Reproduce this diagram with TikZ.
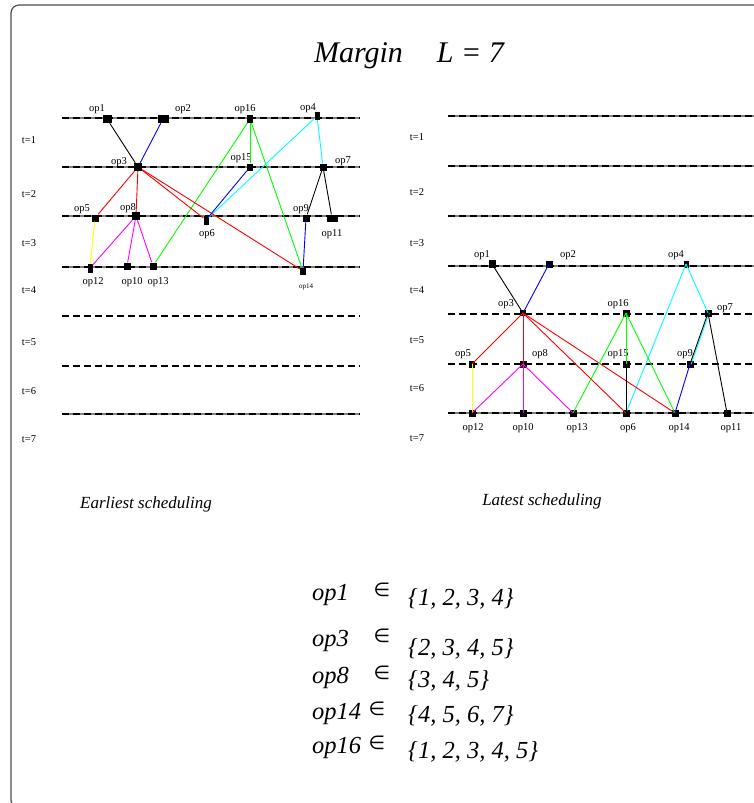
\documentclass[tikz,border=0pt]{standalone}
\usepackage{fontspec}
\setmainfont{Liberation Serif}
\newfontfamily\symfont{DejaVu Sans}
\usetikzlibrary{positioning}
\definecolor{opcyan}{rgb}{0,1,1}
\definecolor{opmagenta}{rgb}{1,0,1}
\definecolor{opyellow}{rgb}{1,1,0}

\begin{document}
\begin{tikzpicture}[
  x=1pt, y=-1pt,
  op/.style={fill=black, inner sep=0pt, minimum width=7pt, minimum height=7pt},
  oplbl/.style={font=\fontsize{10.5}{12}\selectfont, inner sep=0pt},
  tlbl/.style={font=\fontsize{10.5}{12}\selectfont, inner sep=0pt},
  slot/.style={line width=1.2pt, draw=black!50},
  slotdash/.style={line width=1.2pt, dash pattern=on 7pt off 4pt},
  dep/.style={line width=0.9pt},
  big/.style={font=\fontsize{24.5}{28}\selectfont\itshape, inner sep=0pt, anchor=base west},
  caption/.style={font=\fontsize{17}{20}\selectfont\itshape, inner sep=0pt},
]
  \useasboundingbox (0,0) rectangle (754,803);
  \clip (0,0) rectangle (754,803);
  \draw[black!70, line width=1.2pt, rounded corners=8pt] (11,5) rectangle (800,808);

  \node[font=\fontsize{30}{34}\selectfont\itshape, inner sep=0pt] (title) at (409,56)
    {Margin\hspace{34pt}L = 7};

  % time slots, earliest scheduling
  \foreach \y in {118,167,216,267,414} {
    \draw[slot] (62,\y) -- (360,\y);
    \draw[slotdash] (62,\y) -- (360,\y);
  }
  \foreach \y in {316,366}
    \draw[slotdash] (62,\y) -- (360,\y);
  \foreach \i/\y in {1/140,2/194,3/243,4/290,5/342,6/391,7/439}
    \node[tlbl] (lt\i) at (29,\y) {t=\i};

  % time slots, latest scheduling
  \foreach \y in {116,166,216,266,413} {
    \draw[slot] (448,\y) -- (754,\y);
    \draw[slotdash] (448,\y) -- (754,\y);
  }
  \foreach \y in {314,364}
    \draw[slotdash] (448,\y) -- (754,\y);
  \foreach \i/\y in {1/137,2/192,3/243,4/290,5/340,6/388,7/438}
    \node[tlbl] (rt\i) at (417,\y) {t=\i};

  % operations, earliest
  \foreach \n/\x/\y/\w/\h/\lx/\ly/\t in {
      a1/107/119/9/8/97/109/op1, a2/163/119/11/8/183/109/op2,
      a16/250/119/6/8/245/109/op16, a4/317/116/5/8/308/108/op4,
      a3/138/167/8/8/119/162/op3, a15/250/167/6/7/241/158/op15,
      a7/323/167/7/7/343/161/op7, a5/95/218/7/7/82/209/op5,
      a8/136/216/8/8/128/208/op8, a6/206/220/5/9/207/234/op6,
      a9/306/218/7/7/301/209/op9, a11/332/218/11/7/332/234/op11,
      a12/90/268/5/9/93/282/op12, a10/127/266/7/7/132/282/op10,
      a13/153/266/7/7/158/282/op13} {
    \node[op, minimum width=\w pt, minimum height=\h pt] (\n) at (\x,\y) {};
    \node[oplbl] (\n t) at (\lx,\ly) {\t};
  }
  \node[op, minimum width=6pt] (a14) at (303,271) {};
  \node[font=\fontsize{7}{8}\selectfont, inner sep=0pt] (a14t) at (306,287) {op14};

  \draw[dep] (a1) -- (a3);
  \draw[dep, blue] (a2) -- (a3);
  \draw[dep, green] (a16) -- (a15);
  \draw[dep, green] (a16) -- (a13);
  \draw[dep, green] (a16) -- (a14);
  \draw[dep, opcyan] (a4) -- (a6);
  \draw[dep, opcyan] (a4) -- (a7);
  \draw[dep, red] (a3) -- (a5);
  \draw[dep, red] (a3) -- (a8);
  \draw[dep, red] (a3) -- (a6);
  \draw[dep, red] (a3) -- (a14);
  \draw[dep, blue] (a15) -- (a6);
  \draw[dep] (a7) -- (a9);
  \draw[dep] (a7) -- (a11);
  \draw[dep, opyellow] (a5) -- (a12);
  \draw[dep, opmagenta] (a8) -- (a12);
  \draw[dep, opmagenta] (a8) -- (a10);
  \draw[dep, opmagenta] (a8) -- (a13);
  \draw[dep, blue] (a9) -- (a14);

  % operations, latest
  \foreach \n/\x/\y/\w/\h/\lx/\ly/\t in {
      b1/492/264/7/8/482/255/op1, b2/549/264/7/7/568/255/op2,
      b4/686/264/5/7/676/255/op4, b3/523/313/6/6/506/304/op3,
      b16/626/313/7/7/618/304/op16, b7/708/313/7/7/725/308/op7,
      b5/472/364/6/7/463/354/op5, b8/523/364/7/7/540/354/op8,
      b15/626/364/7/7/618/354/op15, b9/690/364/7/7/685/354/op9,
      b12/472/413/7/7/473/428/op12, b10/523/413/7/7/523/428/op10,
      b13/573/413/7/7/577/428/op13, b6/626/413/7/7/628/428/op6,
      b14/675/413/7/7/679/428/op14, b11/727/413/7/7/731/428/op11} {
    \node[op, minimum width=\w pt, minimum height=\h pt] (\n) at (\x,\y) {};
    \node[oplbl] (\n t) at (\lx,\ly) {\t};
  }

  \draw[dep] (b1.center) -- (b3.center);
  \draw[dep, blue] (b2.center) -- (b3.center);
  \draw[dep, opcyan] (b4.center) -- (b6.center);
  \draw[dep, opcyan] (b4.center) -- (b7.center);
  \draw[dep, red] (b3.center) -- (b5.center);
  \draw[dep, red] (b3.center) -- (b8.center);
  \draw[dep, red] (b3.center) -- (b6.center);
  \draw[dep, red] (b3.center) -- (b14.center);
  \draw[dep, green] (b16.center) -- (b15.center);
  \draw[dep, green] (b16.center) -- (b13.center);
  \draw[dep, green] (b16.center) -- (b14.center);
  \draw[dep] (b15.center) -- (b6.center);
  \draw[dep, opcyan] ([xshift=1.2pt]b7.center) -- ([xshift=1.2pt]b9.center);
  \draw[dep] (b7.center) -- (b9.center);
  \draw[dep] (b7.center) -- (b11.center);
  \draw[dep, opyellow] (b5.center) -- (b12.center);
  \draw[dep, opmagenta] (b8.center) -- (b12.center);
  \draw[dep, opmagenta] (b8.center) -- (b10.center);
  \draw[dep, opmagenta] (b8.center) -- (b13.center);
  \draw[dep, blue] (b9.center) -- (b14.center);

  \node[caption] (early) at (146,504) {Earliest scheduling};
  \node[caption] (late) at (542,501) {Latest scheduling};

  % time windows
  \foreach \r/\t/\yn/\xi/\ys/\set in {
      1/op1/600/382/605/{\{1, 2, 3, 4\}},
      3/op3/646/382/655/{\{2, 3, 4, 5\}},
      8/op8/683/382/687/{\{3, 4, 5\}},
      14/op14/719/377/722/{\{4, 5, 6, 7\}},
      16/op16/753/377/758/{\{1, 2, 3, 4, 5\}}} {
    \node[big] (w\r) at (312,\yn) {\t};
    \node[font=\fontsize{19}{21}\selectfont\symfont, inner sep=0pt, anchor=base]
      (in\r) at (\xi,\yn-4) {∈};
    \node[big] (s\r) at (408,\ys) {\set};
  }
\end{tikzpicture}
\end{document}
